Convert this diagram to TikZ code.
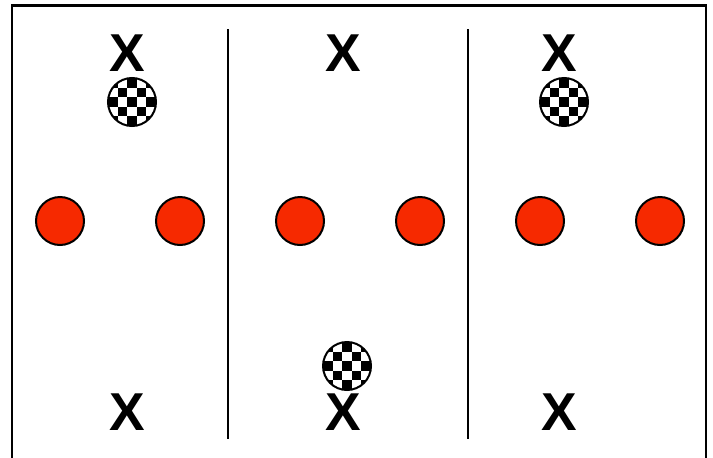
\documentclass[tikz,border=0pt]{standalone}
\usepackage{fontspec}
\setmainfont{Liberation Sans}
\usetikzlibrary{calc}
\definecolor{ballred}{RGB}{246,41,0}
\tikzset{
  redball/.style={circle, draw=black, line width=1.5pt, fill=ballred,
    minimum size=36pt, inner sep=0pt},
  checkball/.style={circle, draw=black, line width=1.5pt, fill=white,
    minimum size=36pt, inner sep=0pt,
    path picture={
      \foreach \i in {0,...,4} {
        \foreach \j in {0,...,4} {
          \pgfmathtruncatemacro{\k}{mod(\i+\j,2)}
          \ifnum\k=0
            \fill[black] ($(path picture bounding box.center)+(\i*7.2pt-18pt, 18pt-\j*7.2pt)$)
              rectangle ++(7.2pt, -7.2pt);
          \fi
        }
      }
    }},
  mark x/.style={font=\fontsize{40}{40}\selectfont\bfseries, inner sep=0pt},
}
\begin{document}
\begin{tikzpicture}[x=0.75pt, y=-0.75pt]
  \useasboundingbox (0,0) rectangle (713,457);
  \def\pA{127} \def\pB{343} \def\pC{559}
  \def\rTop{53} \def\rMid{221} \def\rBot{412}
  % frame, open at the bottom
  \draw[line width=1.6pt] (12,465) -- (12,5.5) -- (706,5.5) -- (706,465);
  % dividers
  \foreach \x in {228, 468} {
    \draw[line width=1.5pt] (\x, 29) -- (\x, 439);
  }
  % red balls
  \foreach \x [count=\n] in {60, 180, 300, 420, 540, 660} {
    \node[redball] (red\n) at (\x, \rMid) {};
  }
  % marks
  \node[mark x] (xtopA) at (\pA, \rTop) {X};
  \node[mark x] (xtopB) at (\pB, \rTop) {X};
  \node[mark x] (xtopC) at (\pC, \rTop) {X};
  \node[mark x] (xbotA) at (\pA, \rBot) {X};
  \node[mark x] (xbotB) at (\pB, \rBot) {X};
  \node[mark x] (xbotC) at (\pC, \rBot) {X};
  % checkered balls
  \node[checkball] (chkA) at (132, 102) {};
  \node[checkball] (chkB) at (347, 366) {};
  \node[checkball] (chkC) at (564, 102) {};
\end{tikzpicture}
\end{document}
